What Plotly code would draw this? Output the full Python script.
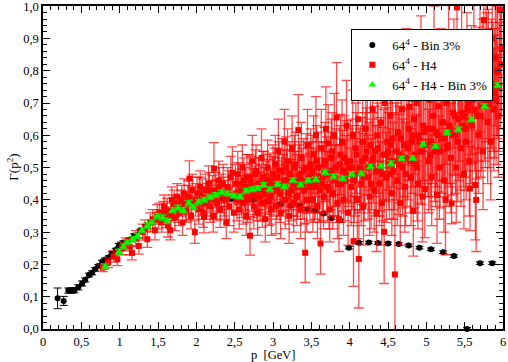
import plotly.graph_objects as go

# 64^4 - Bin 3%
bin_p = [0.19, 0.27, 0.33, 0.37, 0.41, 0.46, 0.51, 0.55, 0.60, 0.64, 0.68, 0.72, 0.77, 0.81, 0.86,
         0.90, 0.95, 0.99, 1.05, 1.12, 1.19, 1.27, 1.34, 1.42, 1.50, 1.58, 1.66, 1.75, 1.84, 1.93,
         2.03, 2.13, 2.24, 2.35, 2.46, 2.58, 2.75, 2.92, 3.10, 3.23, 3.35, 3.45, 3.55, 3.66, 3.76,
         3.87, 3.99, 4.12, 4.25, 4.37, 4.50, 4.64, 4.77, 4.91, 5.06, 5.22, 5.36, 5.53, 5.70, 5.86]
bin_g = [0.095, 0.087, 0.119, 0.119, 0.120, 0.129, 0.141, 0.152, 0.167, 0.174, 0.185, 0.195, 0.208, 0.215, 0.222,
         0.234, 0.245, 0.260, 0.268, 0.276, 0.290, 0.304, 0.318, 0.330, 0.345, 0.355, 0.368, 0.375, 0.383, 0.390,
         0.394, 0.398, 0.400, 0.402, 0.403, 0.402, 0.400, 0.394, 0.387, 0.382, 0.382, 0.371, 0.368, 0.358, 0.343,
         0.337, 0.252, 0.267, 0.268, 0.266, 0.265, 0.263, 0.259, 0.252, 0.247, 0.238, 0.226, 0.000, 0.204, 0.204]
bin_err = [0.032, 0.014, 0.008, 0.008, 0.008, 0.008, 0.008, 0.006, 0.006, 0.006, 0.005, 0.005, 0.005, 0.005, 0.005,
           0.005, 0.005, 0.005, 0.005, 0.005, 0.005, 0.005, 0.005, 0.005, 0.005, 0.005, 0.005, 0.005, 0.005, 0.005,
           0.004, 0.004, 0.004, 0.004, 0.004, 0.004, 0.004, 0.004, 0.004, 0.004, 0.004, 0.004, 0.004, 0.004, 0.004,
           0.004, 0.004, 0.004, 0.004, 0.004, 0.004, 0.004, 0.004, 0.004, 0.004, 0.004, 0.004, 0.004, 0.004, 0.004]

# 64^4 - H4 (momenta, first pass)
h4_p = [0.78, 0.85, 0.92, 0.97, 1.03, 1.08, 1.13, 1.16, 1.21, 1.25, 1.30, 1.33, 1.36, 1.40, 1.43, 1.46, 1.49,
        1.52, 1.55, 1.58, 1.60, 1.63, 1.66, 1.68, 1.70, 1.72, 1.75, 1.77, 1.80, 1.82, 1.84, 1.87, 1.89, 1.91, 1.93, 1.95, 1.98,
        2.01, 2.03, 2.05, 2.07, 2.09, 2.10, 2.12, 2.14, 2.16, 2.18, 2.20, 2.22, 2.23, 2.25, 2.27, 2.29, 2.31, 2.33, 2.35,
        2.37, 2.39, 2.41, 2.43, 2.45, 2.47, 2.49,
        2.51, 2.53, 2.54, 2.56, 2.58, 2.60, 2.61, 2.63, 2.65, 2.66, 2.68, 2.70, 2.71, 2.73, 2.75, 2.76, 2.78, 2.80, 2.81,
        2.83, 2.85, 2.86, 2.88, 2.90, 2.91, 2.93, 2.95, 2.96, 2.98, 3.00,
        3.01, 3.03, 3.04, 3.06, 3.07, 3.09, 3.10, 3.12, 3.13, 3.15, 3.16, 3.18, 3.19, 3.21, 3.22, 3.24, 3.25, 3.27, 3.28,
        3.30, 3.31, 3.33, 3.34, 3.36, 3.37, 3.39, 3.40, 3.42, 3.44, 3.45, 3.47, 3.49,
        3.50, 3.52, 3.53, 3.55, 3.56, 3.58, 3.59, 3.61, 3.62, 3.63, 3.65, 3.66, 3.68, 3.69, 3.71, 3.72, 3.74, 3.75, 3.77,
        3.78, 3.80, 3.81, 3.83, 3.84, 3.86, 3.87, 3.89, 3.90, 3.92, 3.93, 3.95, 3.96, 3.98, 3.99,
        4.01, 4.02, 4.04, 4.05, 4.07, 4.08, 4.10, 4.11, 4.12, 4.14, 4.15, 4.17, 4.18, 4.20, 4.21, 4.23, 4.24, 4.26, 4.27,
        4.29, 4.30, 4.32, 4.33, 4.35, 4.36, 4.38, 4.39, 4.41, 4.42, 4.44, 4.45, 4.46, 4.48, 4.49,
        4.50, 4.52, 4.53, 4.55, 4.56, 4.58, 4.59, 4.60, 4.62, 4.63, 4.65, 4.66, 4.68, 4.69, 4.71, 4.72, 4.74, 4.75, 4.77,
        4.78, 4.80, 4.81, 4.83, 4.84, 4.86, 4.87, 4.89, 4.90, 4.92, 4.93, 4.95, 4.96, 4.98, 4.99,
        5.01, 5.03, 5.04, 5.06, 5.07, 5.09, 5.10, 5.12, 5.13, 5.14, 5.16, 5.17, 5.19, 5.20, 5.22, 5.23, 5.25, 5.26, 5.28,
        5.29, 5.31, 5.32, 5.33, 5.35, 5.36, 5.38, 5.39, 5.40, 5.42, 5.43, 5.45, 5.46, 5.48, 5.49,
        5.50, 5.52, 5.53, 5.55, 5.56, 5.57, 5.59, 5.60, 5.62, 5.63, 5.64, 5.65, 5.67, 5.68, 5.70, 5.71, 5.73, 5.74, 5.75,
        5.77, 5.78, 5.80, 5.81, 5.83, 5.84, 5.86, 5.87, 5.88, 5.90, 5.91, 5.93, 5.94, 5.96, 5.98]
h4_g = [0.190, 0.205, 0.225, 0.216, 0.250, 0.262, 0.255, 0.236, 0.280, 0.257, 0.300, 0.310, 0.278, 0.330, 0.340, 0.306, 0.355,
        0.360, 0.330, 0.380, 0.345, 0.320, 0.306, 0.400, 0.380, 0.345, 0.410, 0.360, 0.390, 0.330, 0.420, 0.370, 0.400, 0.466, 0.350, 0.430, 0.300,
        0.420, 0.370, 0.440, 0.390, 0.360, 0.348, 0.430, 0.400, 0.450, 0.380, 0.410, 0.350, 0.497, 0.430, 0.390, 0.460, 0.370, 0.420, 0.450,
        0.400, 0.330, 0.440, 0.380, 0.470, 0.484, 0.360,
        0.450, 0.400, 0.480, 0.370, 0.430, 0.500, 0.390, 0.440, 0.350, 0.470, 0.410, 0.289, 0.460, 0.520, 0.380, 0.430, 0.490, 0.360, 0.450,
        0.410, 0.530, 0.390, 0.470, 0.340, 0.440, 0.500, 0.400, 0.460, 0.370, 0.480,
        0.440, 0.510, 0.380, 0.470, 0.550, 0.420, 0.360, 0.490, 0.450, 0.580, 0.400, 0.460, 0.520, 0.350, 0.480, 0.430, 0.560, 0.390, 0.500,
        0.450, 0.410, 0.616, 0.470, 0.370, 0.530, 0.440, 0.490, 0.236, 0.400, 0.570, 0.460, 0.510,
        0.470, 0.400, 0.540, 0.450, 0.600, 0.380, 0.500, 0.430, 0.265, 0.560, 0.470, 0.410, 0.520, 0.620, 0.440, 0.575, 0.370, 0.490, 0.550,
        0.420, 0.600, 0.460, 0.655, 0.390, 0.340, 0.510, 0.450, 0.580, 0.400, 0.530, 0.480, 0.630, 0.360, 0.500,
        0.520, 0.440, 0.600, 0.272, 0.480, 0.560, 0.400, 0.650, 0.217, 0.500, 0.450, 0.580, 0.380, 0.530, 0.620, 0.735, 0.470, 0.410, 0.570,
        0.510, 0.680, 0.430, 0.550, 0.360, 0.600, 0.490, 0.450, 0.640, 0.390, 0.540, 0.301, 0.700, 0.470, 0.580,
        0.550, 0.480, 0.660, 0.420, 0.590, 0.520, 0.169, 0.720, 0.460, 0.610, 0.540, 0.390, 0.680, 0.500, 0.570, 0.440, 0.750, 0.530, 0.620,
        0.688, 0.470, 0.580, 0.366, 0.650, 0.510, 0.700, 0.450, 0.600, 0.550, 0.780, 0.410, 0.630, 0.433, 0.570,
        0.620, 0.520, 0.710, 0.580, 0.470, 0.660, 0.800, 0.550, 0.610, 0.415, 0.690, 0.500, 0.740, 0.590, 0.640, 0.460, 0.400, 0.700, 0.570,
        0.820, 0.620, 0.530, 0.389, 0.670, 0.760, 0.600, 0.500, 0.996, 0.650, 0.720, 0.560, 0.850, 0.630, 0.480,
        0.660, 0.580, 0.780, 0.700, 0.520, 0.435, 0.740, 0.630, 0.880, 0.680, 0.446, 0.400, 0.720, 0.600, 0.820, 0.660, 0.760, 0.550, 0.957,
        0.700, 0.860, 0.640, 0.790, 0.730, 0.580, 0.900, 0.750, 0.680, 0.840, 0.710, 0.800, 0.660, 0.988, 0.870]
h4_err = [0.012, 0.015, 0.018, 0.020, 0.020, 0.020, 0.025, 0.022, 0.025, 0.025, 0.025, 0.028, 0.025, 0.030, 0.030, 0.030, 0.030,
          0.030, 0.030, 0.035, 0.030, 0.035, 0.030, 0.040, 0.035, 0.040, 0.040, 0.040, 0.040, 0.040, 0.045, 0.040, 0.045, 0.055, 0.040, 0.050, 0.035,
          0.050, 0.045, 0.050, 0.050, 0.045, 0.050, 0.050, 0.050, 0.055, 0.050, 0.050, 0.050, 0.080, 0.055, 0.055, 0.060, 0.055, 0.060, 0.060,
          0.060, 0.050, 0.060, 0.060, 0.065, 0.080, 0.060,
          0.060, 0.065, 0.070, 0.060, 0.065, 0.070, 0.065, 0.070, 0.060, 0.070, 0.070, 0.060, 0.075, 0.080, 0.070, 0.075, 0.080, 0.070, 0.080,
          0.075, 0.090, 0.075, 0.080, 0.070, 0.080, 0.085, 0.080, 0.085, 0.080, 0.090,
          0.090, 0.090, 0.085, 0.090, 0.100, 0.090, 0.080, 0.100, 0.090, 0.100, 0.090, 0.095, 0.100, 0.085, 0.100, 0.095, 0.100, 0.090, 0.100,
          0.100, 0.090, 0.110, 0.100, 0.090, 0.110, 0.100, 0.100, 0.092, 0.100, 0.110, 0.100, 0.110,
          0.110, 0.100, 0.120, 0.110, 0.120, 0.100, 0.110, 0.100, 0.095, 0.120, 0.110, 0.100, 0.120, 0.130, 0.110, 0.120, 0.100, 0.120, 0.120,
          0.110, 0.130, 0.110, 0.170, 0.110, 0.100, 0.120, 0.120, 0.130, 0.110, 0.130, 0.120, 0.140, 0.100, 0.120,
          0.130, 0.120, 0.140, 0.140, 0.130, 0.140, 0.120, 0.150, 0.152, 0.130, 0.130, 0.140, 0.120, 0.140, 0.150, 0.170, 0.130, 0.120, 0.140,
          0.140, 0.160, 0.130, 0.140, 0.120, 0.150, 0.140, 0.130, 0.150, 0.130, 0.140, 0.160, 0.160, 0.140, 0.150,
          0.150, 0.140, 0.160, 0.130, 0.150, 0.150, 0.310, 0.170, 0.140, 0.160, 0.150, 0.130, 0.170, 0.150, 0.160, 0.140, 0.180, 0.150, 0.160,
          0.170, 0.150, 0.160, 0.140, 0.170, 0.150, 0.180, 0.140, 0.160, 0.160, 0.190, 0.140, 0.170, 0.150, 0.160,
          0.170, 0.160, 0.180, 0.170, 0.150, 0.180, 0.200, 0.170, 0.170, 0.150, 0.190, 0.160, 0.190, 0.170, 0.180, 0.160, 0.170, 0.190, 0.170,
          0.200, 0.180, 0.170, 0.063, 0.190, 0.200, 0.180, 0.170, 0.200, 0.190, 0.200, 0.180, 0.200, 0.190, 0.170,
          0.190, 0.180, 0.200, 0.190, 0.170, 0.130, 0.200, 0.190, 0.210, 0.190, 0.170, 0.160, 0.200, 0.180, 0.210, 0.190, 0.200, 0.180, 0.200,
          0.200, 0.210, 0.190, 0.200, 0.200, 0.180, 0.210, 0.200, 0.190, 0.210, 0.200, 0.210, 0.190, 0.200, 0.210]

# 64^4 - H4, the denser core of the cloud
h4_core_p = [1.51, 1.57, 1.62, 1.67, 1.71, 1.76, 1.81, 1.86, 1.90, 1.94, 1.99, 2.04, 2.08, 2.13, 2.17, 2.21, 2.26, 2.30, 2.36, 2.42,
             2.52, 2.55, 2.59, 2.62, 2.64, 2.67, 2.69, 2.72, 2.74, 2.77, 2.79, 2.82, 2.84, 2.87, 2.89, 2.92, 2.94, 2.97, 2.99,
             3.02, 3.05, 3.08, 3.11, 3.14, 3.17, 3.20, 3.23, 3.26, 3.29, 3.32, 3.35, 3.38, 3.41, 3.43, 3.46, 3.48,
             3.51, 3.54, 3.57, 3.60, 3.64, 3.67, 3.70, 3.73, 3.76, 3.79, 3.82, 3.85, 3.88, 3.91, 3.94, 3.97,
             4.03, 4.06, 4.09, 4.13, 4.16, 4.19, 4.22, 4.25, 4.28, 4.31, 4.34, 4.37, 4.40, 4.43, 4.47,
             4.51, 4.54, 4.57, 4.61, 4.64, 4.67, 4.70, 4.73, 4.76, 4.79, 4.82, 4.85, 4.88, 4.91, 4.94, 4.97,
             5.02, 5.05, 5.08, 5.11, 5.15, 5.18, 5.21, 5.24, 5.27, 5.30, 5.34, 5.37, 5.41, 5.44, 5.47,
             5.51, 5.54, 5.58, 5.61, 5.66, 5.69, 5.72, 5.76, 5.79, 5.82, 5.85, 5.89, 5.92, 5.95, 5.97]
h4_core_g = [0.340, 0.360, 0.370, 0.350, 0.390, 0.370, 0.400, 0.380, 0.410, 0.390, 0.400, 0.420, 0.410, 0.390, 0.430, 0.420, 0.400, 0.440, 0.410, 0.430,
             0.420, 0.450, 0.410, 0.460, 0.430, 0.400, 0.470, 0.440, 0.420, 0.480, 0.410, 0.450, 0.430, 0.470, 0.420, 0.460, 0.440, 0.410, 0.450,
             0.470, 0.430, 0.490, 0.440, 0.460, 0.500, 0.420, 0.470, 0.450, 0.510, 0.440, 0.480, 0.460, 0.430, 0.500, 0.470, 0.440,
             0.490, 0.440, 0.520, 0.470, 0.450, 0.510, 0.480, 0.430, 0.530, 0.470, 0.500, 0.450, 0.540, 0.490, 0.460, 0.520,
             0.500, 0.460, 0.540, 0.490, 0.520, 0.470, 0.550, 0.500, 0.450, 0.530, 0.490, 0.560, 0.510, 0.480, 0.540,
             0.520, 0.570, 0.490, 0.550, 0.510, 0.590, 0.530, 0.480, 0.560, 0.520, 0.600, 0.540, 0.500, 0.580, 0.550, 0.610,
             0.580, 0.540, 0.620, 0.570, 0.600, 0.550, 0.640, 0.590, 0.560, 0.630, 0.600, 0.660, 0.580, 0.620, 0.670,
             0.620, 0.680, 0.640, 0.710, 0.660, 0.740, 0.690, 0.720, 0.780, 0.700, 0.760, 0.730, 0.800, 0.750, 0.820]
h4_core_err = [0.030, 0.035, 0.035, 0.040, 0.040, 0.040, 0.045, 0.045, 0.050, 0.050, 0.050, 0.050, 0.055, 0.050, 0.055, 0.055, 0.060, 0.060, 0.060, 0.060,
               0.065, 0.065, 0.065, 0.070, 0.070, 0.070, 0.070, 0.075, 0.075, 0.075, 0.075, 0.080, 0.080, 0.080, 0.080, 0.080, 0.085, 0.085, 0.085,
               0.090, 0.090, 0.090, 0.090, 0.095, 0.095, 0.095, 0.100, 0.100, 0.100, 0.100, 0.100, 0.100, 0.105, 0.105, 0.105, 0.105,
               0.110, 0.110, 0.110, 0.110, 0.115, 0.115, 0.115, 0.120, 0.120, 0.120, 0.120, 0.120, 0.125, 0.125, 0.125, 0.125,
               0.130, 0.130, 0.130, 0.130, 0.135, 0.135, 0.135, 0.140, 0.140, 0.140, 0.140, 0.140, 0.145, 0.145, 0.145,
               0.150, 0.150, 0.150, 0.150, 0.155, 0.155, 0.155, 0.160, 0.160, 0.160, 0.160, 0.165, 0.165, 0.165, 0.165, 0.170,
               0.170, 0.170, 0.170, 0.175, 0.175, 0.175, 0.180, 0.180, 0.180, 0.180, 0.185, 0.185, 0.185, 0.190, 0.190,
               0.190, 0.190, 0.190, 0.195, 0.195, 0.195, 0.200, 0.200, 0.200, 0.200, 0.200, 0.200, 0.200, 0.200, 0.200]

# 64^4 - H4 - Bin 3%
hb_p = [0.81, 0.99, 1.05, 1.10, 1.17, 1.23, 1.29, 1.36, 1.42, 1.49, 1.56, 1.62, 1.69, 1.76, 1.83, 1.90, 1.96,
        2.03, 2.10, 2.18, 2.25, 2.33, 2.41, 2.49, 2.57, 2.65, 2.73, 2.80, 2.88, 2.96, 3.06, 3.15, 3.26, 3.36,
        3.46, 3.56, 3.68, 3.79, 3.91, 4.03, 4.15, 4.27, 4.41, 4.54, 4.68, 4.82, 4.96, 5.12, 5.27, 5.42, 5.59,
        5.76, 5.93]
hb_g = [0.193, 0.239, 0.255, 0.268, 0.278, 0.288, 0.306, 0.320, 0.330, 0.350, 0.345, 0.335, 0.368, 0.375, 0.368, 0.390, 0.378,
        0.394, 0.400, 0.408, 0.415, 0.423, 0.420, 0.413, 0.410, 0.428, 0.433, 0.437, 0.446, 0.433, 0.448, 0.441, 0.461, 0.447,
        0.461, 0.463, 0.485, 0.472, 0.466, 0.480, 0.482, 0.503, 0.506, 0.513, 0.528, 0.530, 0.573, 0.567, 0.609, 0.618, 0.649,
        0.690, 0.755]
hb_err = [0.008] * 17 + [0.007] * 36

x_ticks = [0, 0.5, 1, 1.5, 2, 2.5, 3, 3.5, 4, 4.5, 5, 5.5, 6]
x_labels = ["0", "0,5", "1", "1,5", "2", "2,5", "3", "3,5", "4", "4,5", "5", "5,5", "6"]
y_ticks = [0, 0.1, 0.2, 0.3, 0.4, 0.5, 0.6, 0.7, 0.8, 0.9, 1.0]
y_labels = ["0,0", "0,1", "0,2", "0,3", "0,4", "0,5", "0,6", "0,7", "0,8", "0,9", "1,0"]

SERIF = "Liberation Serif, Times New Roman, serif"

fig = go.Figure()

fig.add_trace(go.Scatter(
    x=bin_p, y=bin_g, mode="markers", name="64<sup>4</sup> - Bin 3%",
    marker=dict(symbol="circle", size=6, color="black"),
    error_y=dict(type="data", array=bin_err, color="black", thickness=1, width=4),
    cliponaxis=False,
))
fig.add_trace(go.Scatter(
    x=h4_p + h4_core_p, y=h4_g + h4_core_g, mode="markers", name="64<sup>4</sup> - H4",
    marker=dict(symbol="square", size=6, color="red"),
    error_y=dict(type="data", array=h4_err + h4_core_err, color="rgba(255,0,0,0.7)", thickness=1.3, width=5),
))
fig.add_trace(go.Scatter(
    x=hb_p, y=hb_g, mode="markers", name="64<sup>4</sup> - H4 - Bin 3%",
    marker=dict(symbol="triangle-up", size=7, color="#00ff00"),
    error_y=dict(type="data", array=hb_err, color="#22cc00", thickness=1.5, width=4),
))

axis_common = dict(
    showline=True, linecolor="black", linewidth=1.5, mirror="allticks",
    ticks="inside", ticklen=7, tickwidth=1.2, tickcolor="black",
    showgrid=False, zeroline=False, automargin=False,
    ticklabeloverflow="allow",
    tickfont=dict(family=SERIF, size=12.5, color="black"),
)

fig.update_layout(
    width=508, height=362,
    margin=dict(l=43, r=5, t=6, b=33),
    paper_bgcolor="white", plot_bgcolor="white",
    showlegend=True,
    legend=dict(
        x=0.979, y=0.929, xanchor="right", yanchor="top",
        bgcolor="white", bordercolor="black", borderwidth=1,
        font=dict(family=SERIF, size=13, color="black"),
        tracegroupgap=0,
    ),
    xaxis=dict(
        range=[0, 6], tickvals=x_ticks, ticktext=x_labels,
        minor=dict(ticks="inside", dtick=0.1, ticklen=4, tickcolor="black", showgrid=False),
        **axis_common,
    ),
    yaxis=dict(
        range=[0, 1.0005], tickvals=y_ticks, ticktext=y_labels,
        minor=dict(ticks="inside", dtick=0.02, ticklen=4, tickcolor="black", showgrid=False),
        **axis_common,
    ),
    annotations=[
        dict(text="p  [GeV]", x=0.5, y=-0.08, xref="paper", yref="paper",
             xanchor="center", yanchor="middle", showarrow=False,
             font=dict(family=SERIF, size=12.5, color="black")),
        dict(text="Γ(p<sup>2</sup>)", x=-0.067, y=0.5, xref="paper", yref="paper",
             xanchor="center", yanchor="middle", showarrow=False, textangle=-90,
             font=dict(family=SERIF, size=13, color="black")),
    ],
)

# the page body has an 8px default margin; drop it so the figure sits at (0, 0)
fig.write_html("out.html", config={"displayModeBar": False},
               post_script="document.body.style.margin='0';")
